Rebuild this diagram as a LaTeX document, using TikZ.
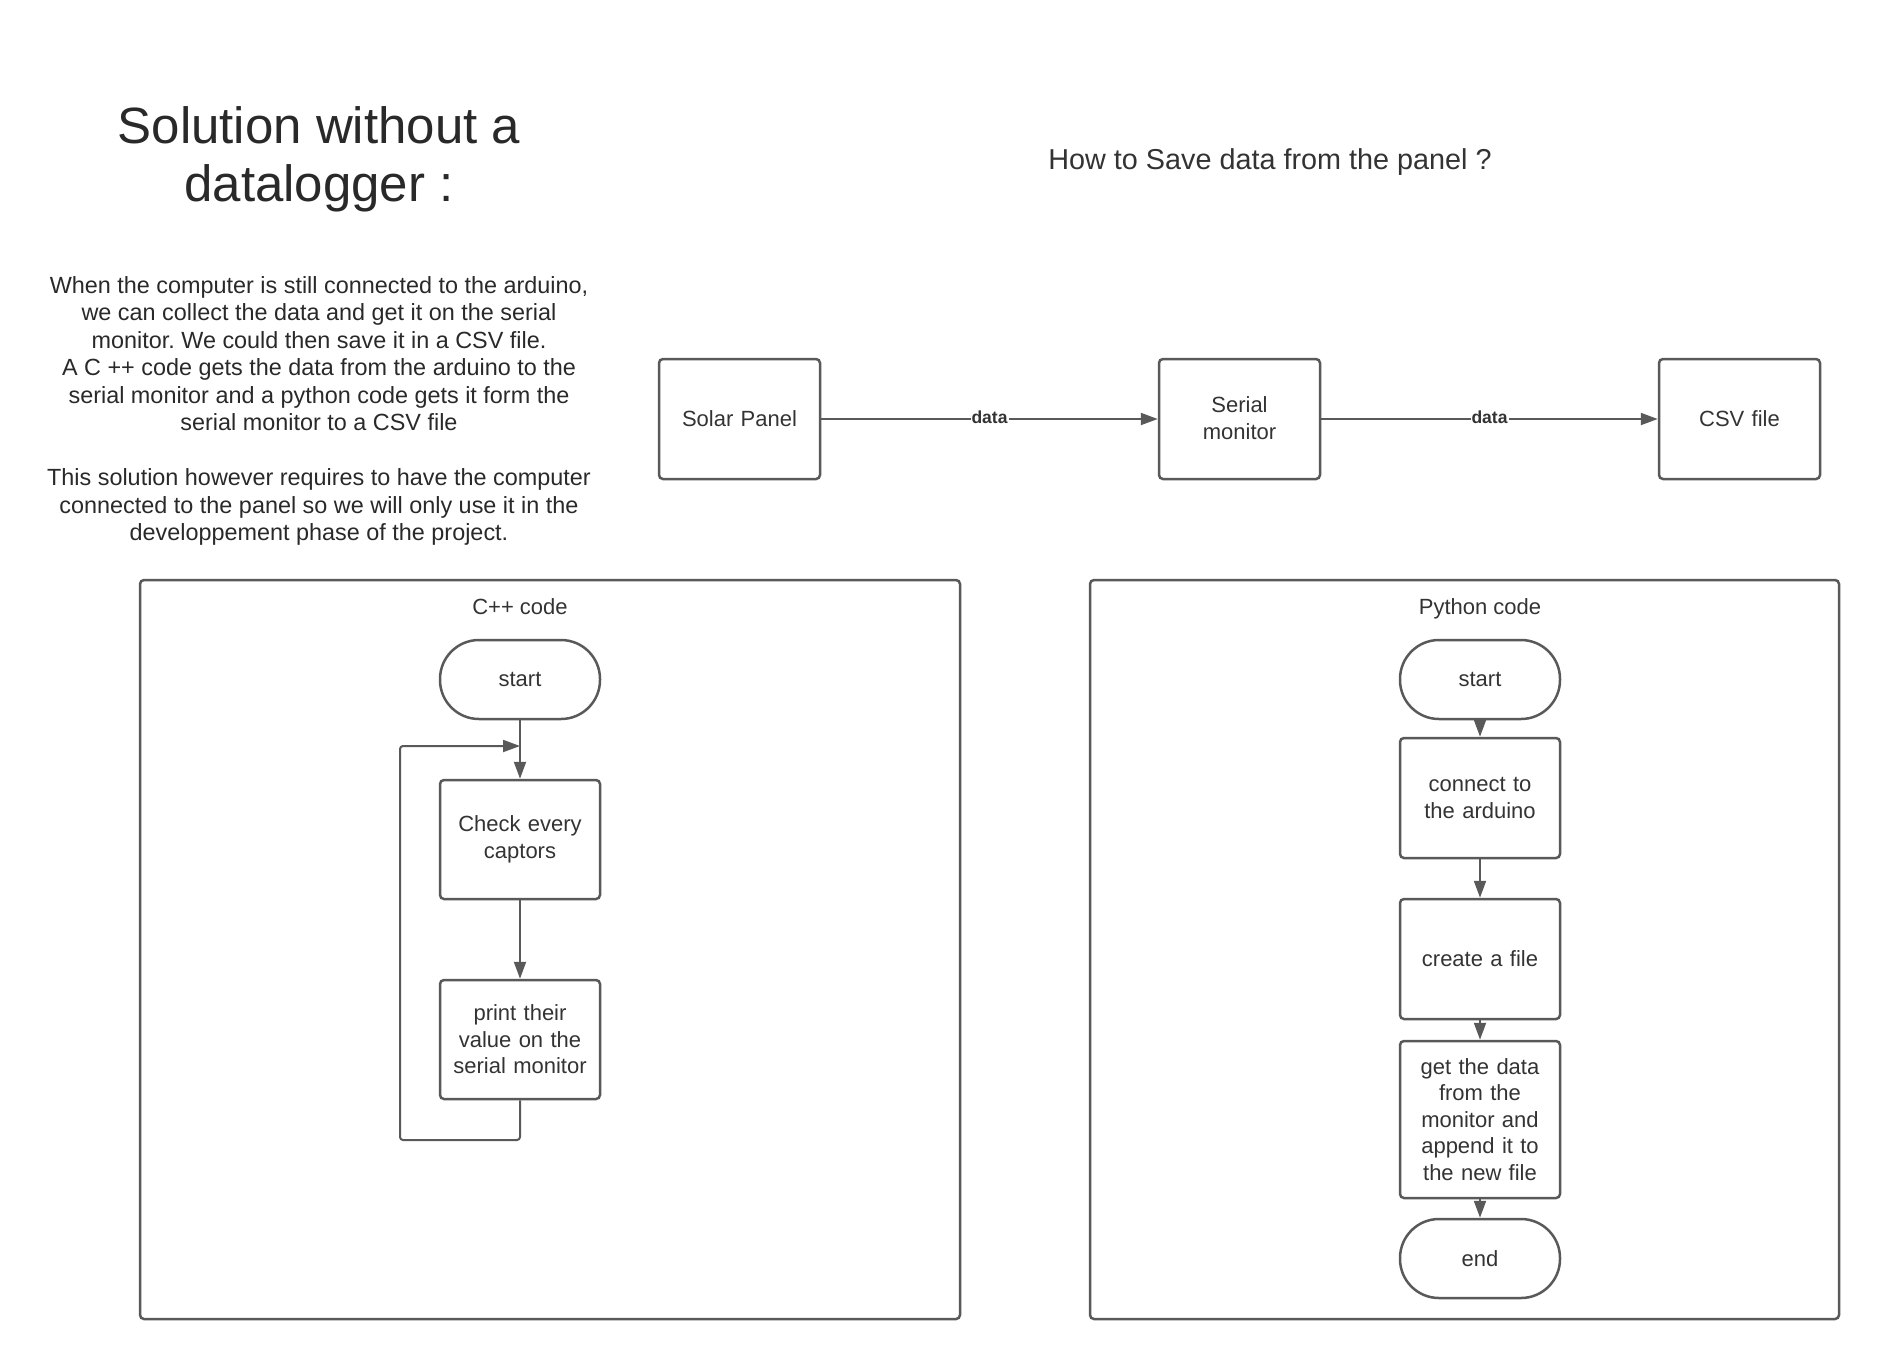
\documentclass[tikz,border=0pt]{standalone}
\usepackage{fontspec}
\setmainfont{Liberation Sans}
\frenchspacing
\usetikzlibrary{shapes,arrows.meta}
\definecolor{linegray}{HTML}{595959}
\definecolor{textgray}{HTML}{333333}
\tikzstyle{block} = [rectangle, draw=linegray, line width=2.5pt, rounded corners=4pt,
    minimum width=160pt, minimum height=120pt, text width=150pt, align=center,
    text=textgray, font=\fontsize{22}{26.5}\selectfont]
\tikzstyle{terminal} = [block, minimum height=79pt, rounded corners=39pt]
\tikzstyle{frame} = [rectangle, draw=linegray, line width=2.5pt, rounded corners=4pt]
\tikzstyle{line} = [draw=linegray, line width=2pt, -{Triangle[length=17pt,width=12pt]}]
\tikzstyle{datalabel} = [fill=white, inner sep=1pt, text=textgray, font=\fontsize{17.5}{19}\selectfont\bfseries]

\begin{document}
\begin{tikzpicture}[x=1pt, y=-1pt]
    \useasboundingbox (0,0) rectangle (1880,1360);
    % headings
    \node[align=center, text=textgray!80!black, font=\fontsize{51}{58}\selectfont] (title) at (319,159.5) {Solution without a\\datalogger :};
    \node[text=textgray, font=\fontsize{28.8}{32}\selectfont] (question) at (1270,162) {How to Save data from the panel ?};
    \node[align=center, text=textgray!80!black, font=\fontsize{23.4}{27.5}\selectfont] (notes) at (319,411)
        {When the computer is still connected to the arduino,\\
         we can collect the data and get it on the serial\\
         monitor. We could then save it in a CSV file.\\
         A C ++ code gets the data from the arduino to the\\
         serial monitor and a python code gets it form the\\
         serial monitor to a CSV file\\[27.5pt]
         This solution however requires to have the computer\\
         connected to the panel so we will only use it in the\\
         developpement phase of the project.};

    % data chain
    \node[block, minimum width=161pt] (panel) at (739.5,419) {Solar Panel};
    \node[block, minimum width=161pt] (serial) at (1239.5,419) {\raisebox{2pt}{Serial}\\\raisebox{2pt}{monitor}};
    \node[block, minimum width=161pt] (csv) at (1739.5,419) {CSV file};
    \path[line] (panel) -- node[datalabel, pos=0.5, yshift=2pt] {data} (serial);
    \path[line] (serial) -- node[datalabel, pos=0.5, yshift=2pt] {data} (csv);

    % C++ code
    \node[frame, minimum width=820pt, minimum height=739pt] (cppframe) at (550,949.5) {};
    \node[anchor=north, text=textgray, font=\fontsize{22}{26}\selectfont] (cpptitle) at ([yshift=-16pt]cppframe.north -| 520,0) {C++ code};
    \node[terminal] (cstart) at (520,679.5) {start};
    \node[block, minimum height=119pt] (check) at (520,839.5) {Check every\\captors};
    \node[block, minimum height=119pt] (print) at (520,1039.5) {print their\\value on the\\serial monitor};
    \coordinate (loopcorner) at (400,1140);
    \coordinate (loopin) at (520,746);
    \path[line] (cstart) -- (check);
    \path[line] (check) -- (print);
    \path[line, rounded corners=3pt] (print.south) |- (loopcorner) |- (loopin);

    % Python code
    \node[frame, minimum width=749pt, minimum height=739pt] (pyframe) at (1464.5,949.5) {};
    \node[anchor=north, text=textgray, font=\fontsize{22}{26}\selectfont] (pytitle) at ([yshift=-16pt]pyframe.north -| 1480,0) {Python code};
    \node[terminal] (pstart) at (1480,679.5) {start};
    \node[block] (connect) at (1480,798) {connect to\\the arduino};
    \node[block] (create) at (1480,959) {create a file};
    \node[block, minimum height=157pt] (append) at (1480,1119.5) {get the data\\from the\\monitor and\\append it to\\the new file};
    \node[terminal] (pend) at (1480,1258.5) {end};
    \path[line] (pstart) -- (connect);
    \path[line] (connect) -- (create);
    \path[line] (create) -- (append);
    \path[line] (append) -- (pend);
\end{tikzpicture}
\end{document}
